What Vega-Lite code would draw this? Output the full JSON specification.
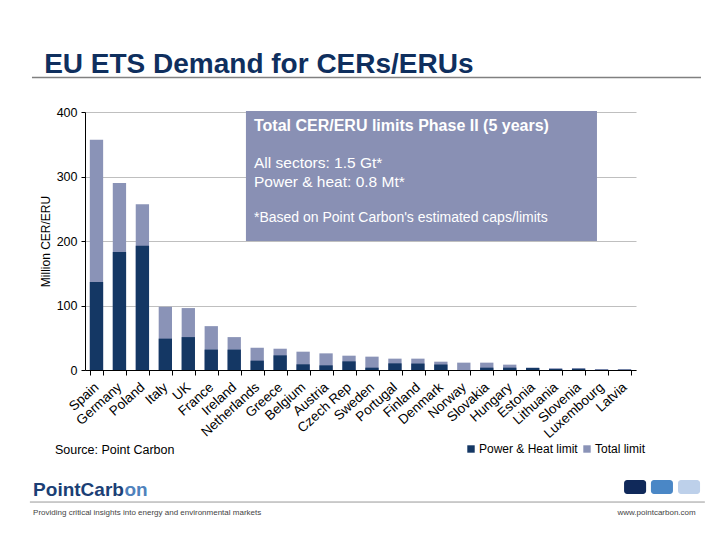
{
  "$schema": "https://vega.github.io/schema/vega-lite/v6.json",
  "width": 551,
  "height": 258,
  "autosize": {"type": "none"},
  "padding": {"left": 85, "top": 112, "right": 84, "bottom": 170},
  "background": "white",
  "config": {"font": "Liberation Sans", "view": {"stroke": null}},
  "layer": [
    {
      "data": {"values": [
        {"country": "Spain", "series": "Total limit", "value": 357},
        {"country": "Germany", "series": "Total limit", "value": 290},
        {"country": "Poland", "series": "Total limit", "value": 257},
        {"country": "Italy", "series": "Total limit", "value": 98},
        {"country": "UK", "series": "Total limit", "value": 96},
        {"country": "France", "series": "Total limit", "value": 68},
        {"country": "Ireland", "series": "Total limit", "value": 51},
        {"country": "Netherlands", "series": "Total limit", "value": 34.5},
        {"country": "Greece", "series": "Total limit", "value": 33},
        {"country": "Belgium", "series": "Total limit", "value": 28.4},
        {"country": "Austria", "series": "Total limit", "value": 25.8},
        {"country": "Czech Rep", "series": "Total limit", "value": 22.2},
        {"country": "Sweden", "series": "Total limit", "value": 20.7},
        {"country": "Portugal", "series": "Total limit", "value": 17.6},
        {"country": "Finland", "series": "Total limit", "value": 17.6},
        {"country": "Denmark", "series": "Total limit", "value": 12.9},
        {"country": "Norway", "series": "Total limit", "value": 11.4},
        {"country": "Slovakia", "series": "Total limit", "value": 11.4},
        {"country": "Hungary", "series": "Total limit", "value": 8.3},
        {"country": "Estonia", "series": "Total limit", "value": 3.6},
        {"country": "Lithuania", "series": "Total limit", "value": 2.8},
        {"country": "Slovenia", "series": "Total limit", "value": 3},
        {"country": "Luxembourg", "series": "Total limit", "value": 1.5},
        {"country": "Latvia", "series": "Total limit", "value": 1.4},
        {"country": "Spain", "series": "Power & Heat limit", "value": 136.6},
        {"country": "Germany", "series": "Power & Heat limit", "value": 183},
        {"country": "Poland", "series": "Power & Heat limit", "value": 192.5},
        {"country": "Italy", "series": "Power & Heat limit", "value": 48.6},
        {"country": "UK", "series": "Power & Heat limit", "value": 51},
        {"country": "France", "series": "Power & Heat limit", "value": 31.6},
        {"country": "Ireland", "series": "Power & Heat limit", "value": 31.6},
        {"country": "Netherlands", "series": "Power & Heat limit", "value": 14.5},
        {"country": "Greece", "series": "Power & Heat limit", "value": 22.7},
        {"country": "Belgium", "series": "Power & Heat limit", "value": 8.8},
        {"country": "Austria", "series": "Power & Heat limit", "value": 7.2},
        {"country": "Czech Rep", "series": "Power & Heat limit", "value": 13.4},
        {"country": "Sweden", "series": "Power & Heat limit", "value": 3.6},
        {"country": "Portugal", "series": "Power & Heat limit", "value": 10.3},
        {"country": "Finland", "series": "Power & Heat limit", "value": 10},
        {"country": "Denmark", "series": "Power & Heat limit", "value": 8.5},
        {"country": "Norway", "series": "Power & Heat limit", "value": 0},
        {"country": "Slovakia", "series": "Power & Heat limit", "value": 3.6},
        {"country": "Hungary", "series": "Power & Heat limit", "value": 3.6},
        {"country": "Estonia", "series": "Power & Heat limit", "value": 3.2},
        {"country": "Lithuania", "series": "Power & Heat limit", "value": 1.5},
        {"country": "Slovenia", "series": "Power & Heat limit", "value": 1.8},
        {"country": "Luxembourg", "series": "Power & Heat limit", "value": 0.3},
        {"country": "Latvia", "series": "Power & Heat limit", "value": 0.4}
      ]},
      "mark": {"type": "bar"},
      "encoding": {
        "x": {
          "field": "country", "type": "nominal", "sort": null,
          "scale": {"paddingInner": 0.42, "paddingOuter": 0.21},
          "axis": {
            "title": null, "labelAngle": -42, "labelAlign": "right", "labelBaseline": "middle",
            "labelFontSize": 13.5, "labelColor": "#000000", "labelPadding": 10,
            "tickBand": "extent", "tickColor": "#000000", "tickSize": 5,
            "domainColor": "#000000", "labelOverlap": false, "labelLimit": 0
          }
        },
        "y": {
          "field": "value", "type": "quantitative", "stack": null,
          "scale": {"domain": [0, 400], "nice": false},
          "axis": {
            "title": "Million CER/ERU", "titleFontSize": 12, "titleFontWeight": "normal",
            "titleColor": "#000000", "titlePadding": 4,
            "values": [0, 100, 200, 300, 400], "labelFontSize": 12.5, "labelColor": "#000000",
            "labelPadding": 4, "tickSize": 4, "tickColor": "#000000",
            "domainColor": "#000000", "grid": true, "gridColor": "#BFBFBF"
          }
        },
        "color": {
          "field": "series", "type": "nominal",
          "scale": {"domain": ["Power & Heat limit", "Total limit"], "range": ["#143764", "#8A93B7"]},
          "legend": {
            "title": null, "orient": "none", "legendX": 380, "legendY": 331,
            "direction": "horizontal", "symbolType": "square", "symbolSize": 55,
            "labelFontSize": 12, "labelColor": "#000000", "labelOffset": 2, "columnPadding": 3
          }
        }
      }
    },
    {
      "data": {"values": [{}]},
      "layer": [
        {
          "mark": {"type": "rect", "color": "#8990B4"},
          "encoding": {
            "x": {"datum": 7.01, "type": "quantitative", "scale": {"domain": [0, 24], "nice": false}, "axis": null},
            "x2": {"datum": 22.3},
            "y": {"datum": 401.5, "type": "quantitative", "scale": {"domain": [0, 400], "nice": false}, "axis": null},
            "y2": {"datum": 200}
          }
        },
        {
          "mark": {"type": "text", "align": "left", "baseline": "alphabetic", "fontSize": 16, "fontWeight": "bold", "color": "#FFFFFF"},
          "encoding": {
            "x": {"datum": 7.36, "type": "quantitative", "scale": {"domain": [0, 24], "nice": false}, "axis": null},
            "y": {"datum": 370, "type": "quantitative", "scale": {"domain": [0, 400], "nice": false}, "axis": null},
            "text": {"value": "Total CER/ERU limits Phase II (5 years)"}
          }
        },
        {
          "mark": {"type": "text", "align": "left", "baseline": "alphabetic", "fontSize": 15.5, "color": "#FFFFFF"},
          "encoding": {
            "x": {"datum": 7.36, "type": "quantitative", "scale": {"domain": [0, 24], "nice": false}, "axis": null},
            "y": {"datum": 313.6, "type": "quantitative", "scale": {"domain": [0, 400], "nice": false}, "axis": null},
            "text": {"value": "All sectors: 1.5 Gt*"}
          }
        },
        {
          "mark": {"type": "text", "align": "left", "baseline": "alphabetic", "fontSize": 15.5, "color": "#FFFFFF"},
          "encoding": {
            "x": {"datum": 7.36, "type": "quantitative", "scale": {"domain": [0, 24], "nice": false}, "axis": null},
            "y": {"datum": 284.2, "type": "quantitative", "scale": {"domain": [0, 400], "nice": false}, "axis": null},
            "text": {"value": "Power & heat: 0.8 Mt*"}
          }
        },
        {
          "mark": {"type": "text", "align": "left", "baseline": "alphabetic", "fontSize": 14, "color": "#FFFFFF"},
          "encoding": {
            "x": {"datum": 7.36, "type": "quantitative", "scale": {"domain": [0, 24], "nice": false}, "axis": null},
            "y": {"datum": 229.5, "type": "quantitative", "scale": {"domain": [0, 400], "nice": false}, "axis": null},
            "text": {"value": "*Based on Point Carbon's estimated caps/limits"}
          }
        },
        {
          "mark": {"type": "text", "align": "left", "baseline": "alphabetic", "fontSize": 28, "fontWeight": "bold", "color": "#0F2F5E"},
          "encoding": {
            "x": {"datum": -1.78, "type": "quantitative", "scale": {"domain": [0, 24], "nice": false}, "axis": null},
            "y": {"datum": 460.5, "type": "quantitative", "scale": {"domain": [0, 400], "nice": false}, "axis": null},
            "text": {"value": "EU ETS Demand for CERs/ERUs"}
          }
        },
        {
          "mark": {"type": "rule", "color": "#808080", "strokeWidth": 1.5},
          "encoding": {
            "x": {"datum": -2.31, "type": "quantitative", "scale": {"domain": [0, 24], "nice": false}, "axis": null},
            "x2": {"datum": 26.83},
            "y": {"datum": 453.5, "type": "quantitative", "scale": {"domain": [0, 400], "nice": false}, "axis": null}
          }
        },
        {
          "mark": {"type": "text", "align": "left", "baseline": "alphabetic", "fontSize": 12.5, "color": "#000000"},
          "encoding": {
            "x": {"datum": -1.31, "type": "quantitative", "scale": {"domain": [0, 24], "nice": false}, "axis": null},
            "y": {"datum": -131, "type": "quantitative", "scale": {"domain": [0, 400], "nice": false}, "axis": null},
            "text": {"value": "Source: Point Carbon"}
          }
        },
        {
          "mark": {"type": "text", "align": "left", "baseline": "alphabetic", "fontSize": 19, "fontWeight": "bold", "color": "#1B3F75"},
          "encoding": {
            "x": {"datum": -2.26, "type": "quantitative", "scale": {"domain": [0, 24], "nice": false}, "axis": null},
            "y": {"datum": -195.3, "type": "quantitative", "scale": {"domain": [0, 400], "nice": false}, "axis": null},
            "text": {"value": "PointCarb"}
          }
        },
        {
          "mark": {"type": "text", "align": "left", "baseline": "alphabetic", "fontSize": 19, "fontWeight": "bold", "color": "#4F82BC"},
          "encoding": {
            "x": {"datum": 1.72, "type": "quantitative", "scale": {"domain": [0, 24], "nice": false}, "axis": null},
            "y": {"datum": -195.3, "type": "quantitative", "scale": {"domain": [0, 400], "nice": false}, "axis": null},
            "text": {"value": "on"}
          }
        },
        {
          "mark": {"type": "rule", "color": "#999999", "strokeWidth": 1},
          "encoding": {
            "x": {"datum": -2.4, "type": "quantitative", "scale": {"domain": [0, 24], "nice": false}, "axis": null},
            "x2": {"datum": 27.0},
            "y": {"datum": -204.7, "type": "quantitative", "scale": {"domain": [0, 400], "nice": false}, "axis": null}
          }
        },
        {
          "mark": {"type": "text", "align": "left", "baseline": "alphabetic", "fontSize": 8, "color": "#444444"},
          "encoding": {
            "x": {"datum": -2.26, "type": "quantitative", "scale": {"domain": [0, 24], "nice": false}, "axis": null},
            "y": {"datum": -224.8, "type": "quantitative", "scale": {"domain": [0, 400], "nice": false}, "axis": null},
            "text": {"value": "Providing critical insights into energy and environmental markets"}
          }
        },
        {
          "mark": {"type": "text", "align": "right", "baseline": "alphabetic", "fontSize": 8, "color": "#444444"},
          "encoding": {
            "x": {"datum": 26.6, "type": "quantitative", "scale": {"domain": [0, 24], "nice": false}, "axis": null},
            "y": {"datum": -224.8, "type": "quantitative", "scale": {"domain": [0, 400], "nice": false}, "axis": null},
            "text": {"value": "www.pointcarbon.com"}
          }
        },
        {
          "mark": {"type": "rect", "color": "#10295A", "cornerRadius": 3},
          "encoding": {
            "x": {"datum": 23.48, "type": "quantitative", "scale": {"domain": [0, 24], "nice": false}, "axis": null},
            "x2": {"datum": 24.44},
            "y": {"datum": -170.5, "type": "quantitative", "scale": {"domain": [0, 400], "nice": false}, "axis": null},
            "y2": {"datum": -192.2}
          }
        },
        {
          "mark": {"type": "rect", "color": "#4A87C6", "cornerRadius": 3},
          "encoding": {
            "x": {"datum": 24.65, "type": "quantitative", "scale": {"domain": [0, 24], "nice": false}, "axis": null},
            "x2": {"datum": 25.61},
            "y": {"datum": -170.5, "type": "quantitative", "scale": {"domain": [0, 400], "nice": false}, "axis": null},
            "y2": {"datum": -192.2}
          }
        },
        {
          "mark": {"type": "rect", "color": "#BDD0EA", "cornerRadius": 3},
          "encoding": {
            "x": {"datum": 25.83, "type": "quantitative", "scale": {"domain": [0, 24], "nice": false}, "axis": null},
            "x2": {"datum": 26.79},
            "y": {"datum": -170.5, "type": "quantitative", "scale": {"domain": [0, 400], "nice": false}, "axis": null},
            "y2": {"datum": -192.2}
          }
        }
      ]
    }
  ],
  "resolve": {"scale": {"x": "independent", "y": "independent", "color": "independent"}}
}
